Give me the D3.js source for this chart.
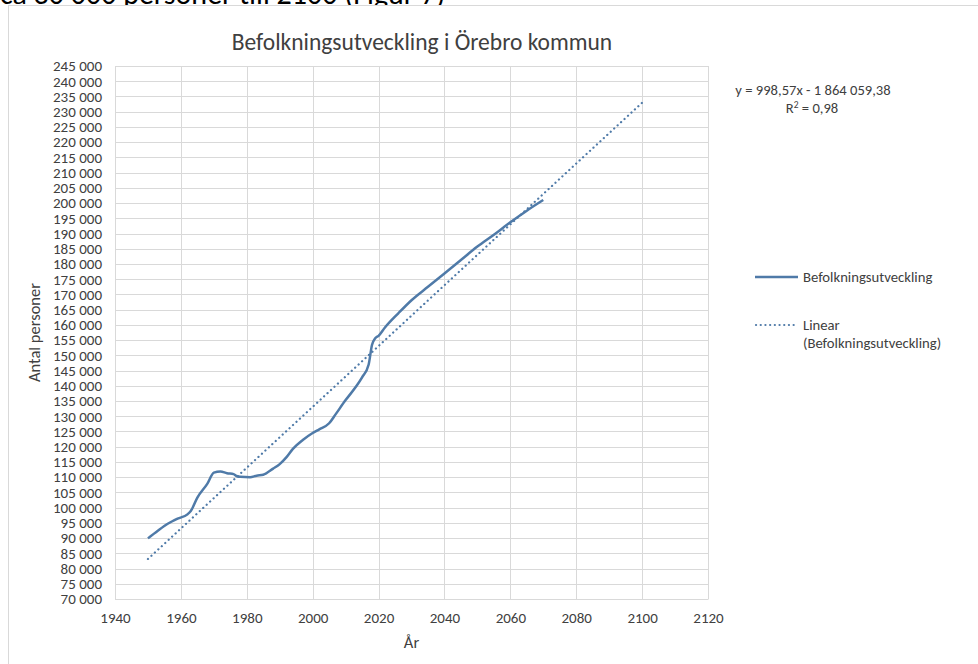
<!DOCTYPE html>
<meta charset="utf-8">
<style>
body { margin: 0; background: #fff; }
svg text { font-family: Carlito, Calibri, "Open Sans", sans-serif; fill: #404040; }
</style>
<script src="https://cdn.jsdelivr.net/npm/d3@7"></script>
<body>
<script>

// population, Örebro kommun (history + forecast)
var years = [1950, 1953, 1956, 1959, 1962, 1963, 1965, 1968, 1970, 1972, 1974, 1976, 1977, 1978,
             1981, 1983, 1985, 1988, 1990, 1992, 1994, 1997, 2000, 2002, 2005, 2007, 2010, 2013,
             2015, 2017, 2018, 2019, 2020, 2022, 2026, 2030, 2035, 2040, 2045, 2050, 2055, 2060,
             2065, 2070];
var population = [89900, 92400, 94700, 96400, 97800, 98900, 103300, 107800, 111500, 111900, 111300, 111000, 110300, 110100,
                  110000, 110500, 110800, 112800, 114300, 116500, 119300, 122200, 124500, 125700, 127700, 130700, 135300, 139500,
                  142800, 147000, 153400, 155600, 156400, 159200, 163800, 168100, 172500, 176900, 181300, 185700, 189600, 193700,
                  197500, 201000];

// linear trend (from Excel)
var slope = 998.57, intercept = -1864059.38;
var trendYears = [1950, 2100];

var xTicks = [1940, 1960, 1980, 2000, 2020, 2040, 2060, 2080, 2100, 2120];
var yTicks = d3.range(70000, 245001, 5000);

var W = 978, H = 664;
var pLeft = 115, pRight = 708, pTop = 66, pBottom = 599;
var col = "#4f7aa8";

var loc = d3.formatLocale({decimal: ",", thousands: " ", grouping: [3], currency: ["", ""]});
var fmt = loc.format(",d");

var svg = d3.select("body").append("svg")
    .attr("width", W)
    .attr("height", H);

// page text cut off at top
svg.append("text")
    .attr("x", 0).attr("y", 4)
    .style("font-size", "30px").style("fill", "#000")
    .text("ca 30 000 personer till 2100 (Figur 7)");

// chart frame
svg.append("rect")
    .attr("x", 8.5).attr("y", 5.5)
    .attr("width", W + 10).attr("height", H + 10)
    .attr("fill", "#fff").attr("stroke", "#d9d9d9");

var x = d3.scaleLinear().domain([1940, 2120]).range([pLeft, pRight]);
var y = d3.scaleLinear().domain([70000, 245000]).range([pBottom, pTop]);

// gridlines
svg.append("g").selectAll("line")
   .data(yTicks)
   .enter().append("line")
   .attr("x1", pLeft).attr("x2", pRight)
   .attr("y1", function(d) { return Math.round(y(d)) + 0.5; })
   .attr("y2", function(d) { return Math.round(y(d)) + 0.5; })
   .attr("stroke", "#d9d9d9");

svg.append("g").selectAll("line")
   .data(xTicks)
   .enter().append("line")
   .attr("x1", function(d) { return Math.round(x(d)) + 0.5; })
   .attr("x2", function(d) { return Math.round(x(d)) + 0.5; })
   .attr("y1", pTop).attr("y2", pBottom)
   .attr("stroke", "#d9d9d9");

// axes
var xAxis = svg.append("g")
    .attr("transform", "translate(0," + pBottom + ")")
    .call(d3.axisBottom(x).tickValues(xTicks).tickFormat(d3.format("d")).tickSize(0).tickPadding(13));
xAxis.select(".domain").attr("stroke", "#d9d9d9");
xAxis.selectAll("text").style("font-size", "15px").attr("fill", "#404040");

var yAxis = svg.append("g")
    .attr("transform", "translate(" + pLeft + ",0)")
    .call(d3.axisLeft(y).tickValues(yTicks).tickFormat(fmt).tickSize(0).tickPadding(13));
yAxis.select(".domain").attr("stroke", "#d9d9d9");
yAxis.selectAll("text").style("font-size", "15px").attr("fill", "#404040");

// trend line
var trend = trendYears.map(function(t) { return [t, slope * t + intercept]; });
svg.append("path")
    .datum(trend)
    .attr("d", d3.line().x(function(d) { return x(d[0]); }).y(function(d) { return y(d[1]); }))
    .attr("fill", "none")
    .attr("stroke", col)
    .attr("stroke-width", 2.2)
    .attr("stroke-linecap", "round")
    .attr("stroke-dasharray", "0.1,4.6");

// population line
var pts = years.map(function(t, i) { return [t, population[i]]; });
svg.append("path")
    .datum(pts)
    .attr("d", d3.line().curve(d3.curveMonotoneX)
        .x(function(d) { return x(d[0]); })
        .y(function(d) { return y(d[1]); }))
    .attr("fill", "none")
    .attr("stroke", col)
    .attr("stroke-width", 2.5)
    .attr("stroke-linejoin", "round");

// title + axis titles
svg.append("text")
    .attr("x", 422).attr("y", 50)
    .attr("text-anchor", "middle")
    .style("font-size", "23.5px")
    .text("Befolkningsutveckling i Örebro kommun");

svg.append("text")
    .attr("x", (pLeft + pRight) / 2).attr("y", 648)
    .attr("text-anchor", "middle")
    .style("font-size", "16.5px")
    .text("År");

svg.append("text")
    .attr("transform", "translate(40," + (pTop + pBottom) / 2 + ") rotate(-90)")
    .attr("text-anchor", "middle")
    .style("font-size", "16.5px")
    .text("Antal personer");

// trend equation
svg.append("text")
    .attr("x", 813).attr("y", 95)
    .attr("text-anchor", "middle")
    .style("font-size", "14.6px")
    .text("y = 998,57x - 1 864 059,38");
var r2 = svg.append("text")
    .attr("x", 812).attr("y", 113)
    .attr("text-anchor", "middle")
    .style("font-size", "14.6px");
r2.append("tspan").text("R");
r2.append("tspan").attr("dy", -5).style("font-size", "9.5px").text("2");
r2.append("tspan").attr("dy", 5).text(" = 0,98");

// legend
var lg = svg.append("g");
lg.append("line")
    .attr("x1", 755).attr("x2", 798).attr("y1", 277).attr("y2", 277)
    .attr("stroke", col).attr("stroke-width", 2.5);
lg.append("text").attr("x", 803).attr("y", 282).style("font-size", "14.7px").text("Befolkningsutveckling");
lg.append("line")
    .attr("x1", 756).attr("x2", 798).attr("y1", 325).attr("y2", 325)
    .attr("stroke", col).attr("stroke-width", 2.2)
    .attr("stroke-linecap", "round").attr("stroke-dasharray", "0.1,4.6");
lg.append("text").attr("x", 803).attr("y", 330).style("font-size", "14.7px").text("Linear");
lg.append("text").attr("x", 803).attr("y", 348).style("font-size", "14.7px").text("(Befolkningsutveckling)");

</script>
